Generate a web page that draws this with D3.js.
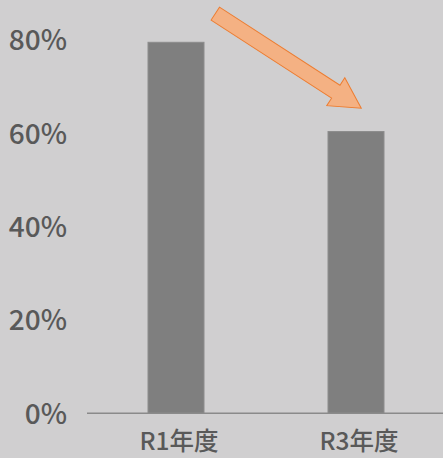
<!DOCTYPE html>
<html>
<head>
<meta charset="utf-8">
<script src="https://cdn.jsdelivr.net/npm/d3@7"></script>
<style>
  html, body { margin: 0; padding: 0; background: #d0cfd0; }
  svg { display: block; }
  text { font-family: "Noto Sans CJK JP", "Noto Sans", sans-serif; fill: #595959; }
</style>
</head>
<body>
<svg id="chart" width="443" height="458"></svg>
<script>
// Share by fiscal year
const categories = ["R1年度", "R3年度"];
const values = [79.4, 60.3];
const yTicks = [0, 20, 40, 60, 80];

const W = 443, H = 458;
const svg = d3.select("#chart");

svg.append("rect").attr("width", W).attr("height", H).attr("fill", "#d0cfd0");

const x = d3.scaleBand().domain(categories).range([86, 446]).paddingInner(0.689).paddingOuter(0.3445);
const y = d3.scaleLinear().domain([0, 80]).range([413.3, 39.5]);

// Y tick labels (no axis line)
const yAxis = d3.axisLeft(y).tickValues(yTicks).tickSize(0).tickPadding(0).tickFormat(d => d + "%");
const gy = svg.append("g").attr("transform", "translate(67,0)").call(yAxis);
gy.select(".domain").remove();
gy.selectAll("text")
  .attr("font-size", 28)
  .attr("font-weight", 500)
  .attr("dy", "0.36em")
  .style("font-family", "\"Noto Sans CJK JP\", sans-serif")
  .attr("fill", "#595959");

// Bars
svg.append("g").selectAll("rect")
  .data(values)
  .join("rect")
  .attr("x", (d, i) => x(categories[i]))
  .attr("y", d => y(d))
  .attr("width", x.bandwidth())
  .attr("height", d => y(0) - y(d))
  .attr("fill", "#7f7f7f")
  .attr("stroke", "#8c8c8c")
  .attr("stroke-width", 1);

// X axis
const xAxis = d3.axisBottom(x).tickSize(0).tickPadding(19);
const gx = svg.append("g").attr("transform", `translate(0,${y(0)})`).call(xAxis);
gx.select(".domain").attr("stroke", "#8a8a8a").attr("stroke-width", 1.5)
  .attr("d", `M87,0H443`);
gx.selectAll("text")
  .attr("font-size", 24.5)
  .attr("font-weight", 500)
  .attr("dy", "0.71em")
  .attr("dx", "3")
  .style("font-family", "\"Noto Sans CJK JP\", sans-serif")
  .attr("fill", "#595959");

// Downward trend arrow from the first bar toward the second
const L = 174, shaftHalf = 7.7, headHalf = 16.6, headLen = 30.4;
const arrowPts = [
  [0, -shaftHalf], [L - headLen, -shaftHalf], [L - headLen, -headHalf],
  [L, 0],
  [L - headLen, headHalf], [L - headLen, shaftHalf], [0, shaftHalf]
];
const tailX = x(categories[0]) + x.bandwidth() / 2 + 39.3;
const tailY = 13.6;
const angle = Math.atan2(94.7, 146) * 180 / Math.PI;
svg.append("polygon")
  .attr("points", arrowPts.map(p => p.join(",")).join(" "))
  .attr("transform", `translate(${tailX},${tailY}) rotate(${angle})`)
  .attr("fill", "#f4b183")
  .attr("stroke", "#ed7d31")
  .attr("stroke-width", 1)
  .attr("stroke-linejoin", "miter");
</script>
</body>
</html>
